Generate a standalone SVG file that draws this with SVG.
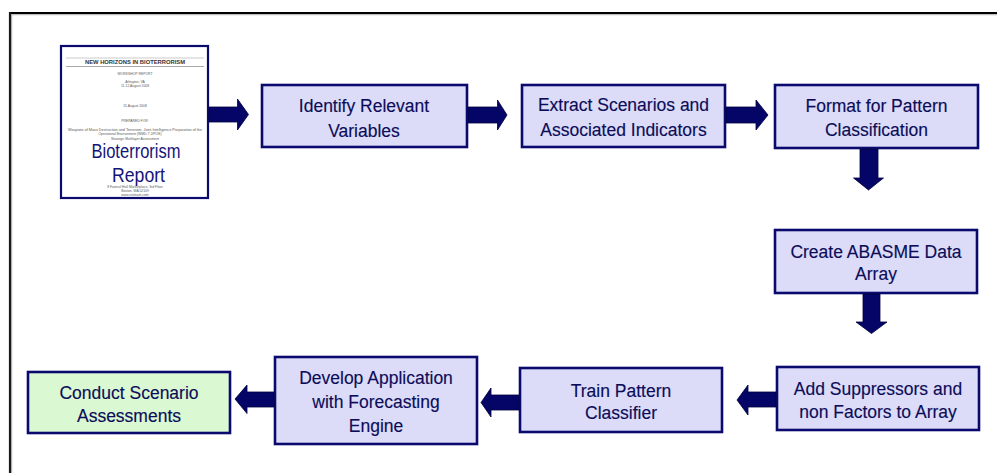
<svg xmlns="http://www.w3.org/2000/svg" width="997" height="473" viewBox="0 0 997 473">
  <style>
    .box { fill: #dcdcf9; stroke: #0a0a6e; stroke-width: 2.6; }
    .green { fill: #daf9d3; }
    .lbl { font-family: "Liberation Sans", Arial, sans-serif; font-size: 17.5px; fill: #0c0c58; text-anchor: middle; stroke: #0c0c58; stroke-width: 0.15; }
    .arrow { fill: #050567; stroke: #00003f; stroke-width: 0.8; stroke-linejoin: miter; }
    .tiny { font-family: "Liberation Sans", Arial, sans-serif; font-size: 3.4px; fill: #5a5a5a; text-anchor: middle; }
    .big { font-family: "Liberation Sans", Arial, sans-serif; font-size: 21px; fill: #14147a; text-anchor: middle; }
  </style>

  <rect x="0" y="0" width="997" height="473" fill="#ffffff"/>

  <!-- frame -->
  <g id="frame">
    <line x1="10" y1="14.5" x2="997" y2="14.5" stroke="#c0c0c0" stroke-width="1.5"/>
    <line x1="11.5" y1="13" x2="11.5" y2="473" stroke="#c0c0c0" stroke-width="1.5"/>
    <line x1="9" y1="13" x2="997" y2="13" stroke="#000000" stroke-width="2.2"/>
    <line x1="10" y1="12" x2="10" y2="473" stroke="#1a1a1a" stroke-width="2.2"/>
  </g>

  <!-- report thumbnail -->
  <g id="report">
    <rect x="61" y="46" width="147" height="152" fill="#ffffff" stroke="#0a0a6e" stroke-width="2.2"/>
    <line x1="66" y1="58" x2="204" y2="58" stroke="#bdbdbd" stroke-width="0.8"/>
    <text x="135" y="64" font-family="Liberation Sans, Arial, sans-serif" font-weight="bold" font-size="4.6" fill="#333" text-anchor="middle" textLength="100" lengthAdjust="spacingAndGlyphs">NEW HORIZONS IN BIOTERRORISM</text>
    <line x1="66" y1="66.5" x2="204" y2="66.5" stroke="#a8a8a8" stroke-width="1"/>
    <text class="tiny" x="135" y="74.5">WORKSHOP REPORT</text>
    <text class="tiny" x="135" y="82.5">Arlington, VA</text>
    <text class="tiny" x="135" y="86.5">11-12 August 2008</text>
    <text class="tiny" x="135" y="107">15 August 2008</text>
    <text class="tiny" x="135" y="122">PREPARED FOR:</text>
    <text class="tiny" x="135" y="130.5" textLength="134" lengthAdjust="spacingAndGlyphs">Weapons of Mass Destruction and Terrorism, Joint Intelligence Preparation of the</text>
    <text class="tiny" x="130" y="134.8">Operational Environment (WMD-T JIPOE)</text>
    <text class="tiny" x="135" y="139.6">Strategic Multilayer Assessment</text>
    <text class="tiny" x="135" y="188.3">8 Faneuil Hall Marketplace, 3rd Floor</text>
    <text class="tiny" x="135" y="192.2">Boston, MA 02109</text>
    <text class="tiny" x="135" y="196">www.nsiteam.com</text>
    <text class="big" x="136" y="158" textLength="89" lengthAdjust="spacingAndGlyphs">Bioterrorism</text>
    <text class="big" x="138.5" y="181.5" textLength="53" lengthAdjust="spacingAndGlyphs">Report</text>
  </g>

  <g id="identify">
    <rect class="box" x="262" y="85" width="205" height="62"/>
    <text class="lbl" x="364" y="111.5">Identify Relevant</text>
    <text class="lbl" x="364" y="136.5">Variables</text>
  </g>

  <g id="extract">
    <rect class="box" x="522" y="85" width="203" height="62"/>
    <text class="lbl" x="623.5" y="111">Extract Scenarios and</text>
    <text class="lbl" x="623.5" y="136">Associated Indicators</text>
  </g>

  <g id="format">
    <rect class="box" x="775" y="85" width="203" height="63"/>
    <text class="lbl" x="876.5" y="111.5">Format for Pattern</text>
    <text class="lbl" x="876.5" y="136">Classification</text>
  </g>

  <g id="create">
    <rect class="box" x="775" y="230" width="202" height="63"/>
    <text class="lbl" x="876" y="257.5">Create ABASME Data</text>
    <text class="lbl" x="876" y="280">Array</text>
  </g>

  <g id="add">
    <rect class="box" x="777" y="367" width="202" height="63"/>
    <text class="lbl" x="878" y="395">Add Suppressors and</text>
    <text class="lbl" x="878" y="418">non Factors to Array</text>
  </g>

  <g id="train">
    <rect class="box" x="520" y="368" width="202" height="64"/>
    <text class="lbl" x="621" y="396.5">Train Pattern</text>
    <text class="lbl" x="621" y="418.5">Classifier</text>
  </g>

  <g id="develop">
    <rect class="box" x="275" y="357" width="202" height="87"/>
    <text class="lbl" x="376" y="383.5">Develop Application</text>
    <text class="lbl" x="376" y="408">with Forecasting</text>
    <text class="lbl" x="376" y="432">Engine</text>
  </g>

  <g id="conduct">
    <rect class="box green" x="28" y="372" width="202" height="61"/>
    <text class="lbl" x="129" y="398.5">Conduct Scenario</text>
    <text class="lbl" x="129" y="422">Assessments</text>
  </g>

  <g id="connectors">
    <!-- right arrows, top row -->
    <polygon class="arrow" points="209,107 237.5,107 237.5,99 248.5,114.5 237.5,130 237.5,122 209,122"/>
    <polygon class="arrow" points="468,107 497.5,107 497.5,100 507,115 497.5,130 497.5,123 468,123"/>
    <polygon class="arrow" points="726,107 756,107 756,100 768,115 756,130 756,123 726,123"/>
    <!-- down arrows -->
    <polygon class="arrow" points="860,149 878,149 878,178 883.5,178 868.5,190 853.5,178 860,178"/>
    <polygon class="arrow" points="863,294 880,294 880,322 887,322 871.5,333.5 856,322 863,322"/>
    <!-- left arrows, bottom row -->
    <polygon class="arrow" points="776,392 748,392 748,385 737,400 748,415 748,407 776,407"/>
    <polygon class="arrow" points="519,395 491,395 491,388 481,402.5 491,417 491,410 519,410"/>
    <polygon class="arrow" points="274,392 247,392 247,385 235,399 247,413.5 247,407 274,407"/>
  </g>
</svg>
